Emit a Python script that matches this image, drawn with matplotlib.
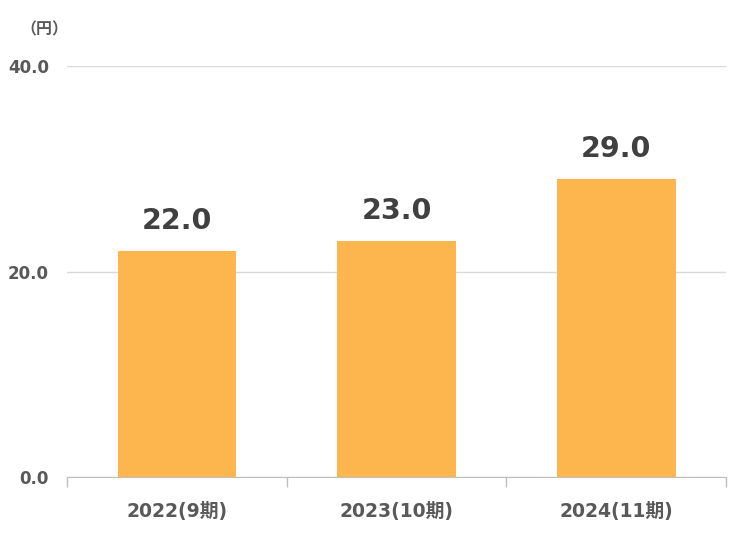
import matplotlib.pyplot as plt

plt.rcParams['font.family'] = ['DejaVu Sans', 'Noto Sans CJK JP']

# data
categories = ['2022(9期)', '2023(10期)', '2024(11期)']
values = [22.0, 23.0, 29.0]
y_ticks = [0, 20, 40]

fig = plt.figure(figsize=(7.47, 5.33), dpi=100)
ax = fig.add_axes([0.0897, 0.105, 0.8823, 0.771])

x = range(len(categories))
ax.bar(x, values, width=0.54, color='#FDB54E', zorder=2)

# value labels above the bars
for i, v in enumerate(values):
    ax.annotate(f'{v:.1f}', (i, v), xytext=(0, 16), textcoords='offset points',
                ha='center', va='baseline', fontsize=20.5, fontweight='bold', color='#404040')

ax.set_xlim(-0.5, len(categories) - 0.5)
ax.set_ylim(0, 40)
ax.set_yticks(y_ticks)
ax.set_yticklabels([f'{t:.1f}' for t in y_ticks])
ax.yaxis.grid(True, color='#d9d9d9', linewidth=1, zorder=0)
ax.tick_params(axis='y', length=0, pad=13, labelsize=12, labelcolor='#595959')
for lab in ax.get_yticklabels():
    lab.set_fontweight('bold')

# category labels, with the tick marks on the boundaries
ax.set_xticks([-0.5, 0.5, 1.5, 2.5])
ax.set_xticklabels([])
ax.set_xticks(list(x), minor=True)
ax.set_xticklabels(categories, minor=True, fontsize=13.5, fontweight='bold', color='#595959')
ax.tick_params(axis='x', which='major', length=7, color='#bfbfbf', width=1)
ax.tick_params(axis='x', which='minor', length=0, pad=18)

for side in ['top', 'right', 'left']:
    ax.spines[side].set_visible(False)
ax.spines['bottom'].set_color('#bfbfbf')

fig.text(0.06, 0.944, '（円）', fontsize=11.5, fontweight='bold', color='#595959', ha='center', va='center',
         family=['Noto Sans CJK JP', 'DejaVu Sans'])

fig.savefig('out.png', dpi=100)
